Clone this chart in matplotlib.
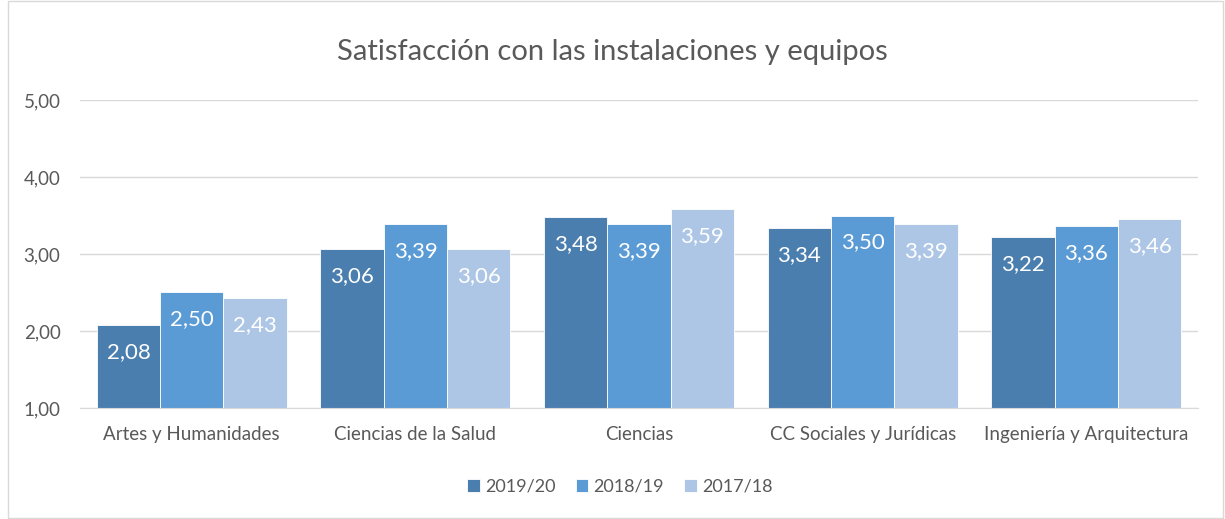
import numpy as np
import matplotlib.pyplot as plt
from matplotlib.patches import Rectangle

categories = ['Artes y Humanidades', 'Ciencias de la Salud', 'Ciencias',
              'CC Sociales y Jurídicas', 'Ingeniería y Arquitectura']
series = ['2019/20', '2018/19', '2017/18']
v2019 = [2.08, 3.06, 3.48, 3.34, 3.22]
v2018 = [2.50, 3.39, 3.39, 3.50, 3.36]
v2017 = [2.43, 3.06, 3.59, 3.39, 3.46]
yticks = [1, 2, 3, 4, 5]

colors = ['#4A7EAF', '#5B9BD5', '#ADC6E6']
text_col = '#595959'
grid_col = '#D9D9D9'

plt.rcParams['font.family'] = ['Lato', 'DejaVu Sans']

fig = plt.figure(figsize=(12.25, 5.19), dpi=100)
ax = fig.add_axes([0.0653, 0.2139, 0.9127, 0.5934])

x = np.arange(len(categories))
w = 0.283
for i, (vals, name) in enumerate(zip([v2019, v2018, v2017], series)):
    bars = ax.bar(x + (i - 1) * w, vals, w, color=colors[i], label=name,
                  edgecolor='white', linewidth=0.6, zorder=2)
    for b, v in zip(bars, vals):
        ax.annotate(f'{v:.2f}'.replace('.', ','),
                    (b.get_x() + b.get_width() / 2, v),
                    xytext=(0, -19.5), textcoords='offset points',
                    ha='center', va='center', color='white', fontsize=16)

ax.set_ylim(1, 5)
ax.set_xlim(-0.5, len(categories) - 0.5)
ax.set_yticks(yticks)
ax.set_yticklabels([f'{t:.2f}'.replace('.', ',') for t in yticks])
ax.set_xticks(x)
ax.set_xticklabels(categories)
ax.tick_params(axis='both', length=0, colors=text_col, labelsize=13.5)
ax.tick_params(axis='x', pad=13)
ax.tick_params(axis='y', pad=14)
ax.yaxis.grid(True, color=grid_col, linewidth=1, zorder=0)
for s in ['top', 'right', 'left']:
    ax.spines[s].set_visible(False)
ax.spines['bottom'].set_color(grid_col)

fig.text(0.5, 0.9, 'Satisfacción con las instalaciones y equipos',
         ha='center', va='center', fontsize=21, color=text_col)

leg = fig.legend(loc='center', bbox_to_anchor=(0.506, 0.062), ncol=3,
                 frameon=False, fontsize=13, handlelength=0.7,
                 handleheight=0.7, handletextpad=0.3, columnspacing=1.1)
for t in leg.get_texts():
    t.set_color(text_col)

fig.patches.append(Rectangle((0.0065, 0.002), 0.992, 0.996, transform=fig.transFigure,
                             fill=False, edgecolor=grid_col, linewidth=1))

fig.savefig('out.png', dpi=100)
